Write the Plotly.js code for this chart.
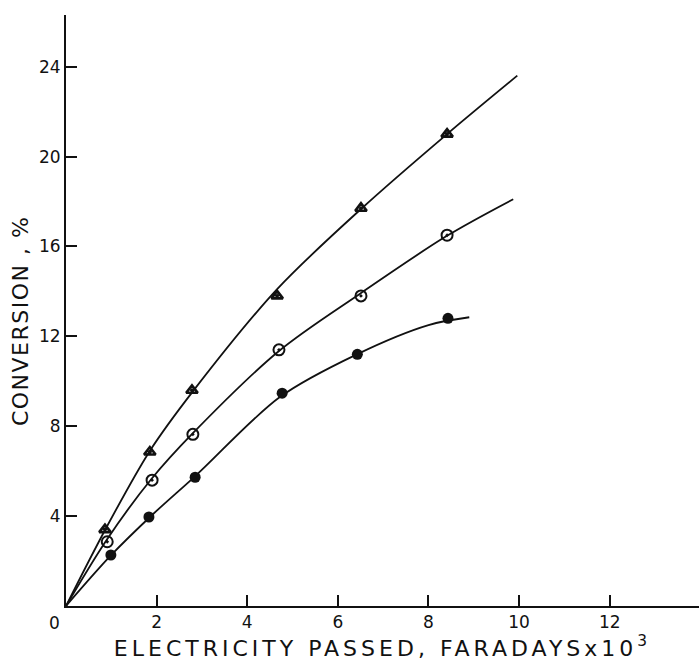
<!DOCTYPE html>
<html><head><meta charset="utf-8">
<script src="https://cdn.plot.ly/plotly-3.0.1.min.js"></script>
<style>
html,body{margin:0;padding:0;background:#fff;}
.xtitle{letter-spacing:4px;}
.annotation-text{letter-spacing:1.5px;}
</style></head><body><div id="chart" style="width:699px;height:663px;"></div>
<script>
// Measured data points (Faradays x10^3, conversion %)
var triX = [0.86, 1.85, 2.78, 4.66, 6.51, 8.41];
var triY = [3.4, 6.85, 9.6, 13.8, 17.7, 21.0];
var openX = [0.91, 1.90, 2.80, 4.70, 6.51, 8.41];
var openY = [2.86, 5.6, 7.64, 11.4, 13.8, 16.5];
var fillX = [0.99, 1.83, 2.85, 4.77, 6.43, 8.43];
var fillY = [2.27, 3.96, 5.73, 9.47, 11.2, 12.8];

// Hand-drawn fitted curves, vertices
var triCurveX = [0, 0.88, 1.85, 2.8, 4.66, 6.53, 8.41, 9.96];
var triCurveY = [0, 3.45, 6.9, 9.55, 14.1, 17.7, 21.0, 23.6];
var openCurveX = [0, 0.9, 1.88, 2.8, 4.7, 6.49, 8.39, 9.87];
var openCurveY = [0, 2.95, 5.64, 7.69, 11.35, 13.9, 16.45, 18.1];
var fillCurveX = [0, 1.0, 1.9, 2.89, 4.72, 6.42, 8.0, 8.9];
var fillCurveY = [0, 2.27, 4.05, 5.85, 9.3, 11.2, 12.5, 12.85];

var xTicks = [2, 4, 6, 8, 10, 12];
var yTicks = [4, 8, 12, 16, 20, 24];

var ink = '#111';
function curve(x, y) {
  return {x: x, y: y, type: 'scatter', mode: 'lines', hoverinfo: 'skip',
    line: {color: ink, width: 1.8, shape: 'spline', smoothing: 0.9}, showlegend: false};
}
var traces = [
  curve(triCurveX, triCurveY),
  curve(openCurveX, openCurveY),
  curve(fillCurveX, fillCurveY),
  {x: triX, y: triY, type: 'scatter', mode: 'markers', showlegend: false,
    marker: {symbol: 'triangle-up-open-dot', size: 10, color: ink, line: {color: ink, width: 2.6}}},
  {x: openX, y: openY, type: 'scatter', mode: 'markers', showlegend: false,
    marker: {symbol: 'circle-open-dot', size: 11, color: ink, line: {color: ink, width: 2}}},
  {x: fillX, y: fillY, type: 'scatter', mode: 'markers', showlegend: false,
    marker: {symbol: 'circle', size: 11, color: ink, line: {color: ink, width: 0}}}
];
var tickFont = {family: 'DejaVu Sans', size: 17, color: ink};
var layout = {
  width: 699, height: 663,
  margin: {l: 66, r: 0, t: 15, b: 57},
  paper_bgcolor: '#fff', plot_bgcolor: '#fff',
  xaxis: {range: [0, 13.97], tickvals: xTicks, ticktext: xTicks.map(String),
    ticks: 'inside', ticklen: 11, tickwidth: 2, tickcolor: ink,
    showline: true, linecolor: ink, linewidth: 2, showgrid: false, zeroline: false,
    tickfont: tickFont, automargin: false,
    title: {text: 'ELECTRICITY PASSED, FARADAYSx10<sup>3</sup>', font: {family: 'DejaVu Sans', size: 22, color: ink}, standoff: 8}},
  yaxis: {range: [0, 26.3], tickvals: yTicks, ticktext: yTicks.map(String),
    ticks: 'inside', ticklen: 11, tickwidth: 2, tickcolor: ink,
    showline: true, linecolor: ink, linewidth: 2, showgrid: false, zeroline: false,
    tickfont: tickFont, automargin: false},
  annotations: [
    {x: 0, y: 0, xref: 'x', yref: 'y', text: '0', showarrow: false,
      xanchor: 'right', yanchor: 'top', xshift: -3, yshift: -5, font: tickFont},
    {x: -0.0727, y: 0.482, xref: 'paper', yref: 'paper', text: 'CONVERSION , %', showarrow: false,
      textangle: -90, xanchor: 'center', yanchor: 'middle',
      font: {family: 'DejaVu Sans', size: 22, color: ink}}
  ]
};
Plotly.newPlot('chart', traces, layout, {displayModeBar: false, staticPlot: true});
</script></body></html>
